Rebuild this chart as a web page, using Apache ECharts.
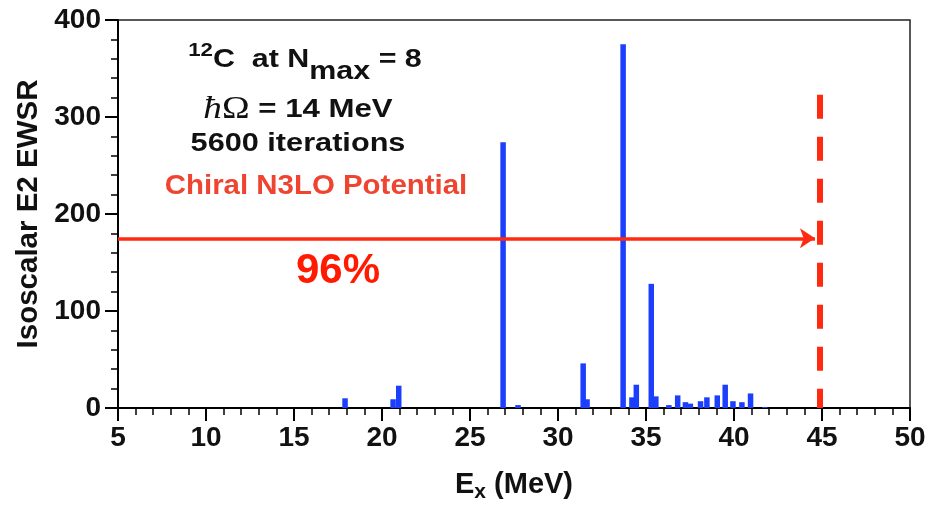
<!DOCTYPE html>
<html>
<head>
<meta charset="utf-8">
<script src="https://cdn.jsdelivr.net/npm/echarts@6/dist/echarts.min.js"></script>
<style>
html,body{margin:0;padding:0;background:#fff;}
#chart{width:941px;height:508px;}
</style>
</head>
<body>
<div id="chart"></div>
<script>
// Excitation energies (MeV) and isoscalar E2 EWSR strengths
const energies  = [17.9, 20.63, 20.95, 26.88, 27.73, 31.43, 31.65, 33.7, 34.2, 34.45, 35.3, 35.56, 36.3, 36.8, 37.24, 37.52, 38.1, 38.46, 39.05, 39.5, 39.94, 40.45, 40.94, 41.75];
const strengths = [10, 9, 23, 274, 3, 46, 9, 375, 11, 24, 128, 12, 3, 13, 6, 4.5, 7, 11, 13, 24, 7, 6, 15, 1];
// annotations
const arrowLevel = 175;     // horizontal arrow height
const arrowEnd = 44.6;      // arrow tip energy
const cutoffEnergy = 44.89; // dashed vertical line
const cutoffTop = 323;
const xTicks = [5, 50, 5];  // min, max, interval
const yTicks = [0, 400, 100];

const FONT = '"Liberation Sans", Arial, Helvetica, sans-serif';
const chart = echarts.init(document.getElementById('chart'), null, {renderer: 'canvas'});

const option = {
  animation: false,
  backgroundColor: '#fff',
  grid: {left: 118, right: 31, top: 20, bottom: 97, show: true, borderColor: '#222', borderWidth: 1.5, backgroundColor: 'transparent'},
  xAxis: {
    type: 'value', min: xTicks[0], max: xTicks[1], interval: xTicks[2],
    name: '{b|E}{s|x}{b| (MeV)}', nameLocation: 'middle', nameGap: 58,
    nameTextStyle: {rich: {
      b: {fontFamily: FONT, fontWeight: 'bold', fontSize: 29, color: '#111'},
      s: {fontFamily: FONT, fontWeight: 'bold', fontSize: 21, color: '#111', padding: [16, 0, 0, 0]}
    }},
    axisLine: {show: true, onZero: false, lineStyle: {color: '#000', width: 2}},
    axisTick: {show: true, length: 13, lineStyle: {color: '#000', width: 2}},
    minorTick: {show: true, splitNumber: 5, length: 7, lineStyle: {color: '#000', width: 1.5}},
    splitLine: {show: false},
    axisLabel: {fontFamily: FONT, fontWeight: 'bold', fontSize: 28, color: '#111', margin: 16}
  },
  yAxis: {
    type: 'value', min: yTicks[0], max: yTicks[1], interval: yTicks[2],
    name: 'Isoscalar E2 EWSR', nameLocation: 'middle', nameGap: 53, nameRotate: 90,
    nameTextStyle: {fontFamily: FONT, fontWeight: 'bold', fontSize: 29.5, color: '#111'},
    axisLine: {show: true, lineStyle: {color: '#000', width: 2}},
    axisTick: {show: true, length: 13, lineStyle: {color: '#000', width: 2}},
    minorTick: {show: true, splitNumber: 5, length: 7, lineStyle: {color: '#000', width: 1.5}},
    splitLine: {show: false},
    axisLabel: {fontFamily: FONT, fontWeight: 'bold', fontSize: 28, color: '#111', margin: 17}
  },
  series: [{
    type: 'bar',
    data: energies.map((e, i) => [e, strengths[i]]),
    barWidth: 5.5,
    itemStyle: {color: '#1c3efd'},
    markLine: {
      silent: true,
      animation: false,
      label: {show: false},
      data: [
        [{coord: [xTicks[0], arrowLevel], symbol: 'none'},
         {coord: [arrowEnd, arrowLevel], symbol: 'arrow', symbolSize: [15, 15],
          lineStyle: {color: '#ff2a10', width: 3.5, type: 'solid'}}],
        [{coord: [cutoffEnergy, cutoffTop], symbol: 'none'},
         {coord: [cutoffEnergy, 0], symbol: 'none',
          lineStyle: {color: '#ff2a10', width: 6, type: [24, 18]}}]
      ]
    }
  }],
  graphic: [
    {type: 'text', x: 305, y: 60, scaleX: 1.17, style: {
      text: '{sup|12}{m|C  at N}{sub|max}{m| = 8}', align: 'center', verticalAlign: 'middle',
      rich: {
        m: {fontFamily: FONT, fontWeight: 'bold', fontSize: 26, fill: '#111'},
        sup: {fontFamily: FONT, fontWeight: 'bold', fontSize: 19, fill: '#111', padding: [0, 0, 18, 0]},
        sub: {fontFamily: FONT, fontWeight: 'bold', fontSize: 26, fill: '#111', padding: [24, 0, 0, 0]}
      }}},
    {type: 'text', x: 298, y: 110, scaleX: 1.2, style: {
      text: '{h|ħ}{o|Ω}{m| = 14 MeV}', align: 'center', verticalAlign: 'middle',
      rich: {
        h: {fontFamily: '"Liberation Serif", "DejaVu Serif", serif', fontStyle: 'italic', fontSize: 31, fill: '#111'},
        o: {fontFamily: '"Liberation Serif", "DejaVu Serif", serif', fontSize: 31, fill: '#111'},
        m: {fontFamily: FONT, fontWeight: 'bold', fontSize: 26, fill: '#111'}
      }}},
    {type: 'text', x: 298, y: 144, scaleX: 1.18, style: {
      text: '5600 iterations', align: 'center', verticalAlign: 'middle',
      font: 'bold 26px ' + FONT, fill: '#111'}},
    {type: 'text', x: 316, y: 187, scaleX: 1.09, style: {
      text: 'Chiral N3LO Potential', align: 'center', verticalAlign: 'middle',
      font: 'bold 27px ' + FONT, fill: '#ee4430'}},
    {type: 'text', x: 338, y: 271, style: {
      text: '96%', align: 'center', verticalAlign: 'middle',
      font: 'bold 42px ' + FONT, fill: '#ff1a00'}}
  ]
};
chart.setOption(option);
</script>
</body>
</html>
